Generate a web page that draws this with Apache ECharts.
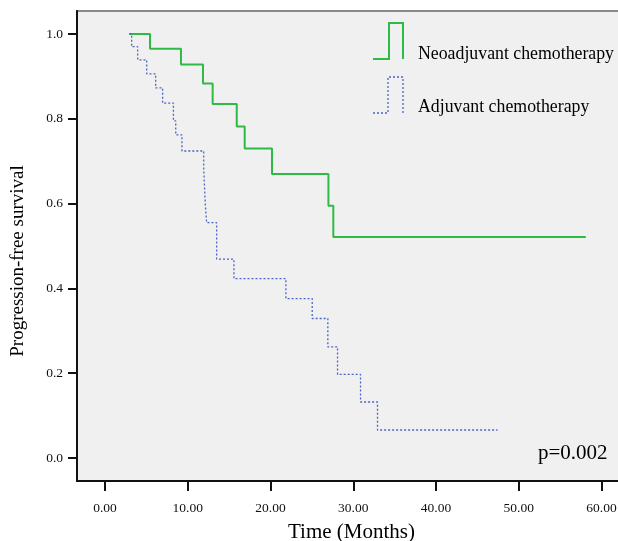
<!DOCTYPE html>
<html>
<head>
<meta charset="utf-8">
<script src="https://cdn.jsdelivr.net/npm/echarts@6/dist/echarts.min.js"></script>
<style>
html,body{margin:0;padding:0;background:#fff;}
#chart{width:618px;height:541px;}
</style>
</head>
<body>
<div id="chart"></div>
<script>
// Kaplan-Meier step data
var neoTimes = [2.94, 5.44, 9.18, 11.84, 13.01, 15.92, 16.88, 20.18, 27.0, 27.59, 58.1];
var neoSurv  = [1.0, 0.965, 0.928, 0.883, 0.835, 0.782, 0.730, 0.670, 0.595, 0.521, 0.521];

var adjTimes = [2.94, 3.22, 3.95, 5.04, 6.12, 6.96, 8.27, 8.55, 9.3, 11.93, 12.11, 12.28, 13.49, 15.58, 21.86, 25.04, 26.93, 28.1, 30.88, 32.93, 47.43];
var adjSurv  = [1.0, 0.970, 0.939, 0.906, 0.873, 0.837, 0.795, 0.762, 0.724, 0.682, 0.601, 0.555, 0.469, 0.423, 0.376, 0.329, 0.262, 0.197, 0.132, 0.066, 0.066];

var xTicks = [0, 10, 20, 30, 40, 50, 60];
var yTicks = [0, 0.2, 0.4, 0.6, 0.8, 1.0];

var seriesNames = ['Neoadjuvant chemotherapy', 'Adjuvant chemotherapy'];
var xTitle = 'Time (Months)';
var yTitle = 'Progression-free survival';
var pText = 'p=0.002';

function pairs(xs, ys){ return xs.map(function(x,i){ return [x, ys[i]]; }); }

var FONT = '"Liberation Serif", "DejaVu Serif", serif';
var GREEN = '#2fba45';
var BLUE = '#4a64c4';

var chart = echarts.init(document.getElementById('chart'), null, {renderer:'canvas'});
chart.setOption({
  animation: false,
  backgroundColor: '#ffffff',
  grid: {
    left: 77, top: 11, width: 549, height: 470,
    outerBoundsMode: 'none', containLabel: false,
    show: true, backgroundColor: '#f0f0f0', borderColor: '#8a8a8a', borderWidth: 2
  },
  xAxis: {
    type: 'value', min: -3.384, max: 62.96,
    name: xTitle, nameLocation: 'middle', nameGap: 41,
    nameTextStyle: {fontFamily: FONT, fontSize: 21, color: '#000'},
    axisLine: {show: true, onZero: false, lineStyle: {color: '#111', width: 2}},
    axisTick: {show: true, length: 10, lineStyle: {color: '#111', width: 2}, customValues: xTicks},
    axisLabel: {fontFamily: FONT, fontSize: 13.5, color: '#111', margin: 20, customValues: xTicks,
      formatter: function(v){ return v.toFixed(2); }},
    splitLine: {show: false}
  },
  yAxis: {
    type: 'value', min: -0.0543, max: 1.0542,
    axisLine: {show: true, onZero: false, lineStyle: {color: '#111', width: 2}},
    axisTick: {show: true, length: 9, lineStyle: {color: '#111', width: 2}, customValues: yTicks},
    axisLabel: {fontFamily: FONT, fontSize: 13.5, color: '#111', margin: 14, customValues: yTicks,
      formatter: function(v){ return v.toFixed(1); }},
    splitLine: {show: false}
  },
  series: [
    {
      name: seriesNames[0], type: 'line', step: 'end', showSymbol: false, symbol: 'none',
      data: pairs(neoTimes, neoSurv),
      lineStyle: {color: GREEN, width: 2}
    },
    {
      name: seriesNames[1], type: 'line', step: 'end', showSymbol: false, symbol: 'none',
      data: pairs(adjTimes, adjSurv),
      lineStyle: {color: BLUE, width: 1.3, type: [2, 2]}
    }
  ],
  graphic: [
    {type: 'polyline', shape: {points: [[373,59],[389,59],[389,23],[403,23],[403,59]]},
     style: {stroke: GREEN, lineWidth: 2, fill: null}},
    {type: 'polyline', shape: {points: [[373,113],[388,113],[388,77],[403,77],[403,113]]},
     style: {stroke: BLUE, lineWidth: 1.3, lineDash: [2,2], fill: null}},
    {type: 'text', x: 418, y: 54, style: {text: seriesNames[0], font: '17.8px ' + FONT, fill: '#000', textAlign: 'left', textVerticalAlign: 'middle'}},
    {type: 'text', x: 418, y: 107, style: {text: seriesNames[1], font: '17.8px ' + FONT, fill: '#000', textAlign: 'left', textVerticalAlign: 'middle'}},
    {type: 'text', x: 538, y: 453, style: {text: pText, font: '21px ' + FONT, fill: '#000', textAlign: 'left', textVerticalAlign: 'middle'}},
    {type: 'text', x: 18, y: 261, rotation: Math.PI/2, style: {text: yTitle, font: '19px ' + FONT, fill: '#000', textAlign: 'center', textVerticalAlign: 'middle'}}
  ]
});
</script>
</body>
</html>
